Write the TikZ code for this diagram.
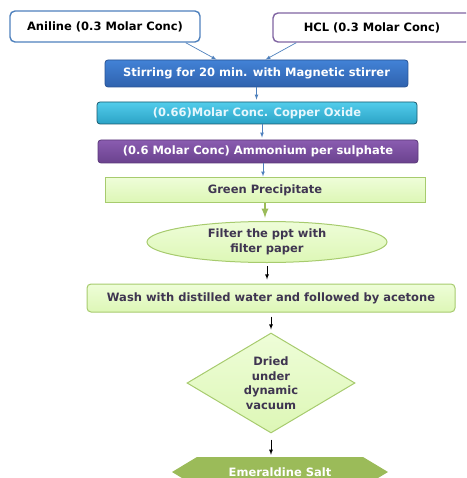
\documentclass[tikz,border=0pt]{standalone}
\usepackage{fontspec}
\setmainfont{DejaVu Sans}
\usetikzlibrary{shapes.geometric,shapes.symbols}
\definecolor{accblue}{HTML}{4F81BD}
\definecolor{accpurple}{HTML}{8064A2}
\definecolor{accgreen}{HTML}{9BBB59}
\definecolor{stirtop}{HTML}{4282D6}
\definecolor{stirbot}{HTML}{2F62AE}
\definecolor{cutop}{HTML}{52CDEB}
\definecolor{cubot}{HTML}{2BA2C6}
\definecolor{amtop}{HTML}{8A5CB0}
\definecolor{ambot}{HTML}{6A428E}
\definecolor{paletop}{HTML}{EEFDD8}
\definecolor{palebot}{HTML}{DDF7B6}
\definecolor{leafline}{HTML}{A7CB6E}
\definecolor{inkdark}{HTML}{3F3551}
\begin{document}
\begin{tikzpicture}[
    x=1pt, y=-1pt, >=latex,
    every node/.style={font=\bfseries\fontsize{11.5}{14.5}\selectfont, align=center, inner sep=0pt},
    inbox/.style={draw, line width=1.4pt, rounded corners=5pt, fill=white, text=black},
    bar/.style={rounded corners=3pt, text=white, line width=0.8pt},
    leaf/.style={draw=leafline, line width=1pt, top color=paletop, bottom color=palebot, text=inkdark},
    bluearr/.style={draw=accblue, ->, line width=0.7pt},
    blackarr/.style={draw=black, ->, line width=0.8pt}
]
  \useasboundingbox (0,0) rectangle (466,478);
  \clip (0,0) rectangle (466,478);
  % --- the two starting solutions ------------------------------------------
  \node[inbox, draw=accblue, minimum width=190pt, minimum height=31pt] (aniline) at (105,26.5) {Aniline (0.3 Molar Conc)};
  \node[inbox, draw=accpurple, minimum width=198pt, minimum height=29pt] (hcl) at (372,27.5) {HCL (0.3 Molar Conc)};
  % --- coloured process bars -----------------------------------------------
  \node[bar, top color=stirtop, bottom color=stirbot, draw=stirbot!85!black,
        minimum width=303pt, minimum height=27pt] (stir) at (256.5,73.5) {Stirring for 20 min. with Magnetic stirrer};
  \node[bar, top color=cutop, bottom color=cubot, draw=cubot!55!black,
        text=white!90!cyan, minimum width=320pt, minimum height=22pt] (copper) at (257,113) {(0.66)Molar Conc. Copper Oxide};
  \node[bar, top color=amtop, bottom color=ambot, draw=ambot!85!black,
        minimum width=320pt, minimum height=23pt] (amm) at (258,151.5) {(0.6 Molar Conc) Ammonium per sulphate};
  % --- green steps -----------------------------------------------------------
  \node[leaf, minimum width=320pt, minimum height=24pt] (green) at (265,190) {Green Precipitate};
  \node[leaf, ellipse, minimum width=240pt, minimum height=41pt] (filter) at (267,242) {Filter the ppt with\\filter paper};
  \node[leaf, rounded corners=4pt, minimum width=368pt, minimum height=28pt] (wash) at (271,298) {Wash with distilled water and followed by acetone};
  \node[leaf, diamond, aspect=1.68, minimum width=168pt, minimum height=100pt] (dried) at (271,383) {Dried\\under\\dynamic\\vacuum};
  \node[signal, signal to=west and east, signal pointer angle=62, fill=accgreen, text=white,
        minimum width=216pt, minimum height=30pt] (salt) at (280,472) {Emeraldine Salt};
  % --- connectors ------------------------------------------------------------
  \draw[bluearr] ([xshift=-15pt]aniline.south east) -- ([xshift=-40pt]stir.north);
  \draw[bluearr] ([xshift=24pt]hcl.south west) -- ([xshift=9pt]stir.north);
  \draw[bluearr, shorten >=2pt] (stir.south) -- (stir.south |- copper.north);
  \draw[bluearr, shorten >=2pt] ([xshift=5pt]copper.south) -- ([xshift=5pt]copper.south |- amm.north);
  \draw[bluearr, shorten >=1pt] ([xshift=5pt]amm.south) -- ([xshift=5pt]amm.south |- green.north);
  \draw[draw=accgreen, ->, line width=2.2pt, shorten >=3pt] (green.south) -- (green.south |- filter.north);
  \draw[blackarr, shorten <=3pt, shorten >=4pt] (filter.south) -- (filter.south |- wash.north);
  \draw[blackarr, shorten <=4pt, shorten >=3pt] (wash.south) -- (wash.south |- dried.north);
  \draw[blackarr, shorten <=6pt, shorten >=2pt] (dried.south) -- (dried.south |- salt.north);
\end{tikzpicture}
\end{document}
